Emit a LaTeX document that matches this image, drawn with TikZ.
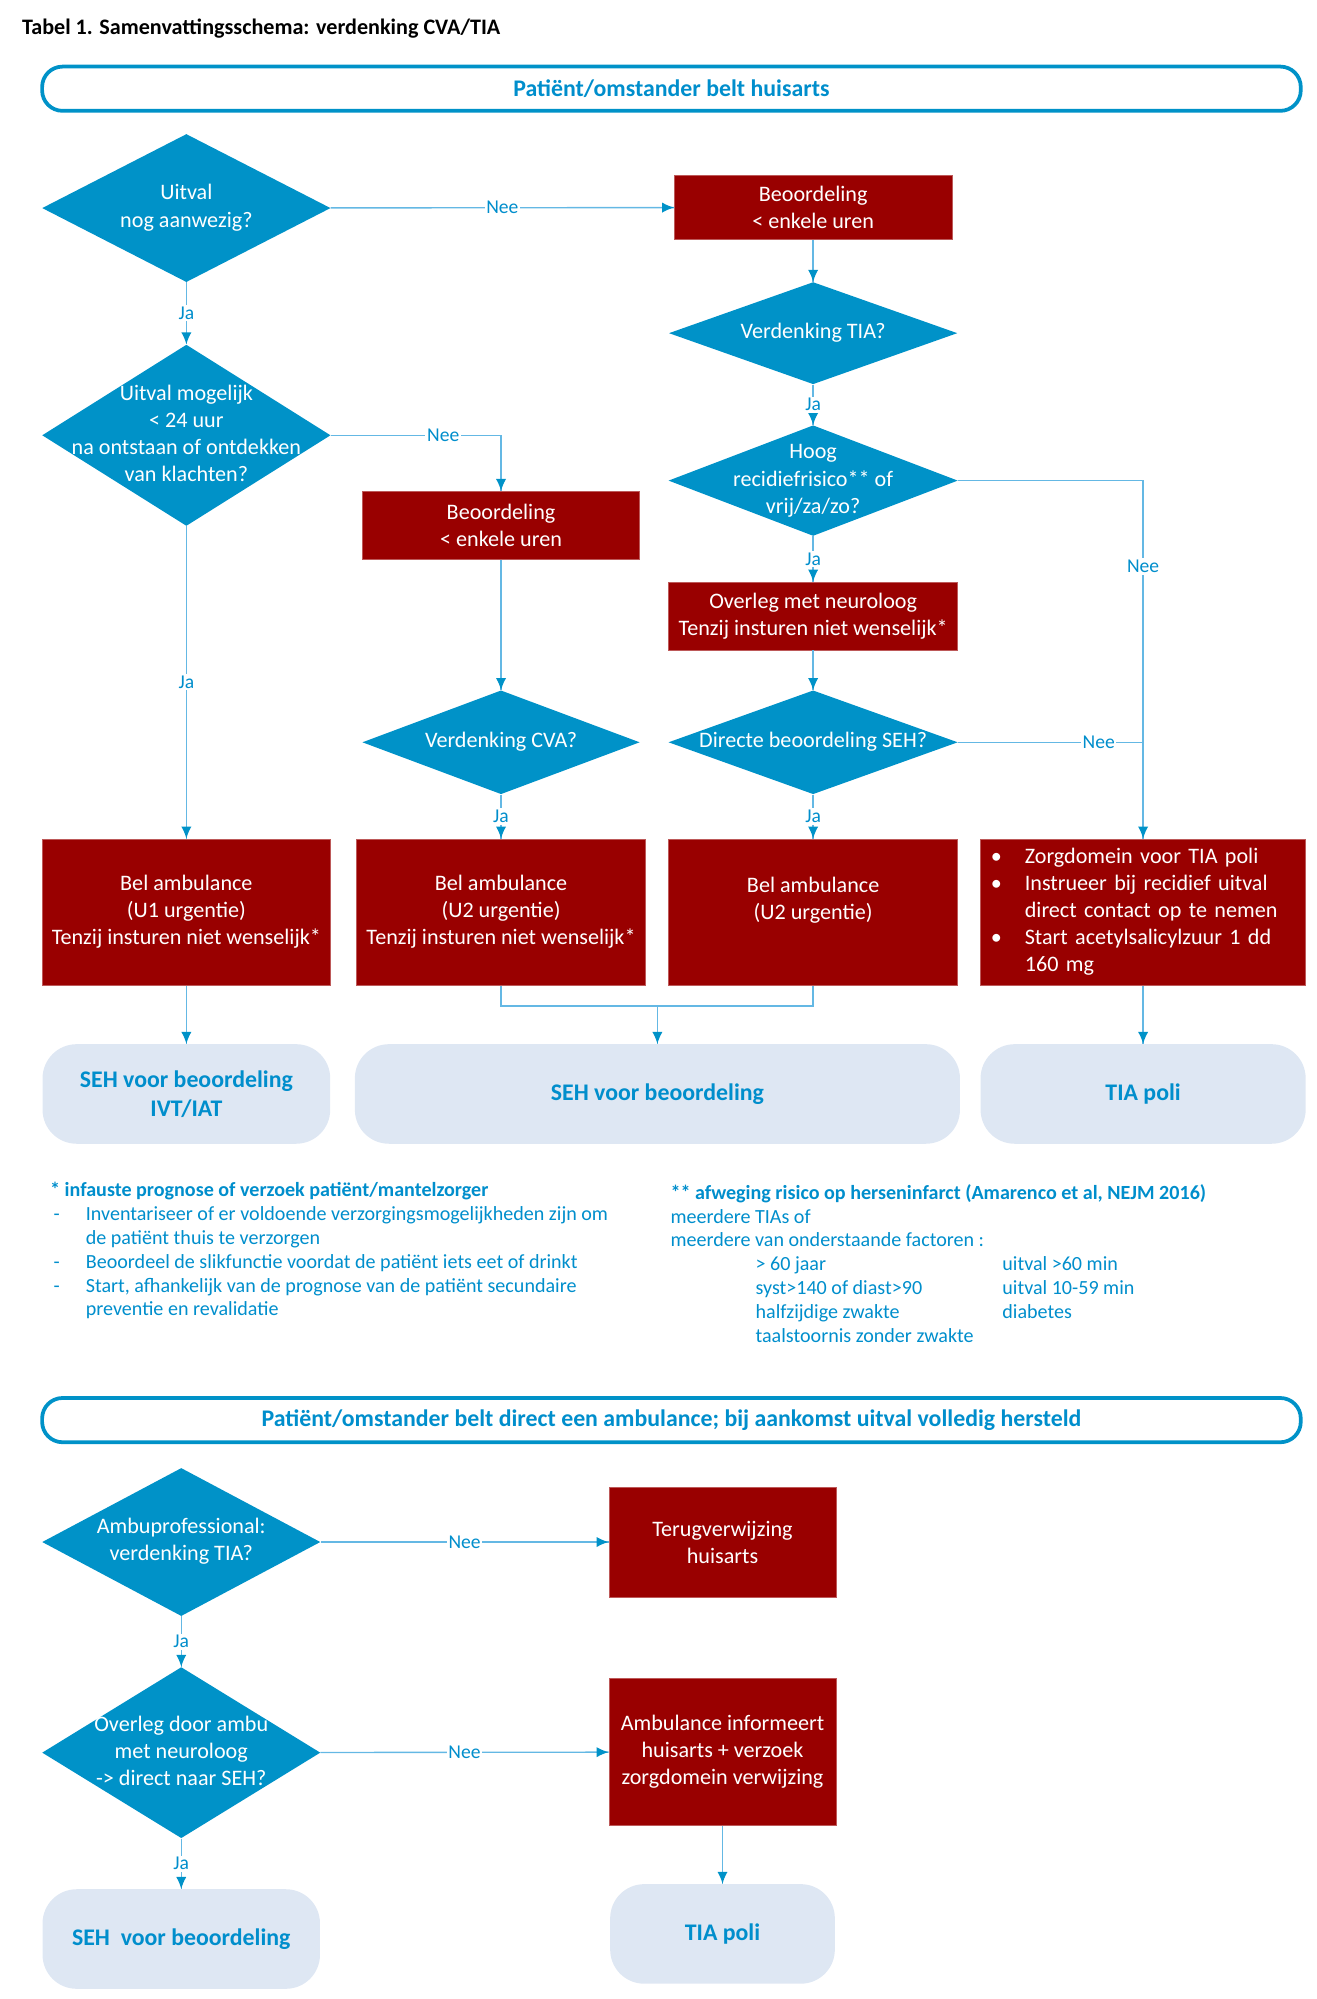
\documentclass[tikz,border=0pt]{standalone}
\usepackage{fontspec}
\setmainfont{Carlito}
\usepackage{tikz}
\usetikzlibrary{shapes.geometric,decorations.markings,arrows.meta}
\definecolor{ruitblauw}{RGB}{0,146,200}
\definecolor{lijnblauw}{RGB}{100,184,228}
\definecolor{tekstblauw}{RGB}{0,142,204}
\definecolor{donkerrood}{RGB}{153,0,0}
\definecolor{eindgrijs}{RGB}{222,231,243}
\tikzstyle{ruit}=[diamond, fill=ruitblauw, text=white, inner sep=0pt, font=\fontsize{13}{15.9}\selectfont]
\tikzstyle{blok}=[rectangle, fill=donkerrood, draw=donkerrood!65!white, line width=0.4pt, text=white, align=center, inner sep=0pt, font=\fontsize{13}{15.9}\selectfont]
\tikzstyle{eind}=[rectangle, rounded corners=20pt, fill=eindgrijs, text=tekstblauw, align=center, inner sep=0pt, font=\bfseries\fontsize{14}{17}\selectfont]
\tikzstyle{balk}=[rectangle, rounded corners=12pt, draw=ruitblauw, line width=2.2pt, text=tekstblauw, inner sep=0pt, minimum width=739.5pt, minimum height=26pt, font=\bfseries\fontsize{14}{17}\selectfont]
\tikzstyle{lbl}=[fill=white, text=tekstblauw, inner sep=1pt, font=\fontsize{11.5}{14}\selectfont]
\tikzstyle{lijn}=[draw=lijnblauw, line width=0.8pt]
\tikzstyle{haaks}=[to path={-| (\tikztotarget) \tikztonodes}]
\tikzstyle{noot}=[anchor=base west, inner sep=0pt, text=tekstblauw, font=\fontsize{11.8}{14}\selectfont]
\tikzstyle{titel}=[anchor=base west, inner sep=0pt, font=\bfseries\fontsize{13}{16}\selectfont]
\providecommand{\ruittekst}[1]{\makebox[0pt]{\begin{tabular}{@{}c@{}}#1\end{tabular}}}

\begin{document}
\begin{tikzpicture}[x=0.75pt, y=-0.75pt,
    every edge/.style={
        draw=lijnblauw, line width=0.8pt,
        postaction={decorate,
                    decoration={markings,mark=at position 1 with {\arrow{Latex[length=7pt,width=6pt,color=ruitblauw]}}}
                   }
        }
]
\useasboundingbox (0,0) rectangle (1031,1566);
\node[titel] (titel) at (17,27) {Tabel 1. Samenvattingsschema: verdenking CVA/TIA};
\node[balk] (huisarts) at (526,69.5) {Patiënt/omstander belt huisarts};
% linker kolom
\node[ruit, minimum width=169.5pt, minimum height=87pt] (uitval) at (146,163) {\ruittekst{Uitval\\nog aanwezig?}};
\node[ruit, minimum width=169.5pt, minimum height=106.5pt] (mogelijk) at (146,341) {\ruittekst{Uitval mogelijk\\< 24 uur\\na ontstaan of ontdekken\\van klachten?}};
\node[blok, minimum width=169.5pt, minimum height=86pt] (belU1) at (146,714.5) {Bel ambulance\\(U1 urgentie)\\Tenzij insturen niet wenselijk*};
\node[eind, minimum width=169pt, minimum height=58.5pt] (sehIVT) at (146,857) {SEH voor beoordeling\\IVT/IAT};
% middelste kolom
\node[blok, minimum width=163pt, minimum height=40pt] (beoordCVA) at (392.5,411.5) {Beoordeling\\< enkele uren};
\node[ruit, minimum width=163pt, minimum height=61pt] (cva) at (392.5,581.5) {\ruittekst{Verdenking CVA?}};
\node[blok, minimum width=170pt, minimum height=86pt] (belU2a) at (392.5,714.5) {Bel ambulance\\(U2 urgentie)\\Tenzij insturen niet wenselijk*};
\node[eind, minimum width=355.5pt, minimum height=58.5pt] (seh) at (515,857) {SEH voor beoordeling};
% rechter kolom
\node[blok, minimum width=163pt, minimum height=38pt] (beoordTIA) at (637,162.5) {Beoordeling\\< enkele uren};
\node[ruit, minimum width=169.5pt, minimum height=60pt] (tia) at (637,261) {\ruittekst{Verdenking TIA?}};
\node[ruit, minimum width=170pt, minimum height=65pt] (hoog) at (637,376.5) {\ruittekst{Hoog\\recidiefrisico** of\\vrij/za/zo?}};
\node[blok, minimum width=170pt, minimum height=40pt] (overleg) at (637,482.5) {Overleg met neuroloog\\Tenzij insturen niet wenselijk*};
\node[ruit, minimum width=170pt, minimum height=61pt] (direct) at (637,581.5) {\ruittekst{Directe beoordeling SEH?}};
\node[blok, minimum width=170pt, minimum height=86pt] (belU2b) at (637,714.5) {Bel ambulance\\(U2 urgentie)\\\mbox{}};
\node[blok, minimum width=191pt, minimum height=86pt, text width=179pt, inner xsep=6pt, align=left] (zorg) at (895.5,714.5) {\begin{tabular}{@{}l@{}l@{}}
\makebox[20pt][l]{\textbullet} & Zorgdomein voor TIA poli\\
\textbullet & Instrueer bij recidief uitval\\
 & direct contact op te nemen\\
\textbullet & Start acetylsalicylzuur 1 dd\\
 & 160 mg
\end{tabular}};
\node[eind, minimum width=191pt, minimum height=58.5pt] (tiapoli) at (895.5,857) {TIA poli};
\coordinate (aansluit) at (895.5,581.5);
\coordinate (samen) at (515,788);
% voetnoten
\node[noot] (nootlinks) at (39,937.5) {\begin{tabular}[t]{@{}l@{}l@{}}
\multicolumn{2}{@{}l@{}}{\textbf{* infauste prognose of verzoek patiënt/mantelzorger}}\\
\makebox[21pt][l]{\hspace{2pt}-} & Inventariseer of er voldoende verzorgingsmogelijkheden zijn om\\
 & de patiënt thuis te verzorgen\\
\hspace{2pt}- & Beoordeel de slikfunctie voordat de patiënt iets eet of drinkt\\
\hspace{2pt}- & Start, afhankelijk van de prognose van de patiënt secundaire\\
 & preventie en revalidatie
\end{tabular}};
\node[noot] (nootrechts) at (525,939.5) {\begin{tabular}[t]{@{}p{50pt}@{}p{145pt}@{}l@{}}
\multicolumn{3}{@{}l@{}}{\textbf{** afweging risico op herseninfarct (Amarenco et al, NEJM 2016)}}\\
\multicolumn{3}{@{}l@{}}{meerdere TIAs of}\\
\multicolumn{3}{@{}l@{}}{meerdere van onderstaande factoren :}\\
 & > 60 jaar & uitval >60 min\\
 & syst>140 of diast>90 & uitval 10-59 min\\
 & halfzijdige zwakte & diabetes\\
 & taalstoornis zonder zwakte &
\end{tabular}};
% ambulance
\node[balk] (ambulance) at (526,1112.5) {Patiënt/omstander belt direct een ambulance; bij aankomst uitval volledig hersteld};
\node[ruit, minimum width=163.5pt, minimum height=87pt] (ambu) at (142,1208) {\ruittekst{Ambuprofessional:\\verdenking TIA?}};
\node[blok, minimum width=133.5pt, minimum height=64.5pt] (terug) at (566,1208) {Terugverwijzing\\huisarts};
\node[ruit, minimum width=163.5pt, minimum height=100.5pt] (overlegambu) at (142,1373) {\ruittekst{Overleg door ambu\\met neuroloog\\-> direct naar SEH?}};
\node[blok, minimum width=133.5pt, minimum height=86pt] (informeert) at (566,1372.5) {Ambulance informeert\\huisarts + verzoek\\zorgdomein verwijzing};
\node[eind, minimum width=163pt, minimum height=58.5pt] (sehambu) at (142,1519) {SEH~~voor beoordeling};
\node[eind, minimum width=132pt, minimum height=58.5pt] (tiapoli2) at (566,1515) {TIA poli};
\path
(uitval) edge node [lbl] {Ja} (mogelijk)
(uitval) edge node [lbl] {Nee} (beoordTIA)
(mogelijk) edge node [lbl] {Ja} (belU1)
(mogelijk) edge [haaks] node [lbl, pos=0.33] {Nee} (beoordCVA)
(beoordCVA) edge (cva)
(cva) edge node [lbl] {Ja} (belU2a)
(beoordTIA) edge (tia)
(tia) edge node [lbl] {Ja} (hoog)
(hoog) edge node [lbl] {Ja} (overleg)
(overleg) edge (direct)
(direct) edge node [lbl] {Ja} (belU2b)
(hoog) edge [haaks] node [lbl, pos=0.62] {Nee} (zorg)
(belU1) edge (sehIVT)
(samen) edge (seh)
(zorg) edge (tiapoli)
(ambu) edge node [lbl] {Nee} (terug)
(ambu) edge node [lbl] {Ja} (overlegambu)
(overlegambu) edge node [lbl] {Nee} (informeert)
(overlegambu) edge node [lbl] {Ja} (sehambu)
(informeert) edge (tiapoli2)
;
\draw[lijn] (direct) -- node [lbl, pos=0.76] {Nee} (aansluit);
\draw[lijn] (belU2a) |- (samen) -| (belU2b);
\end{tikzpicture}
\end{document}
